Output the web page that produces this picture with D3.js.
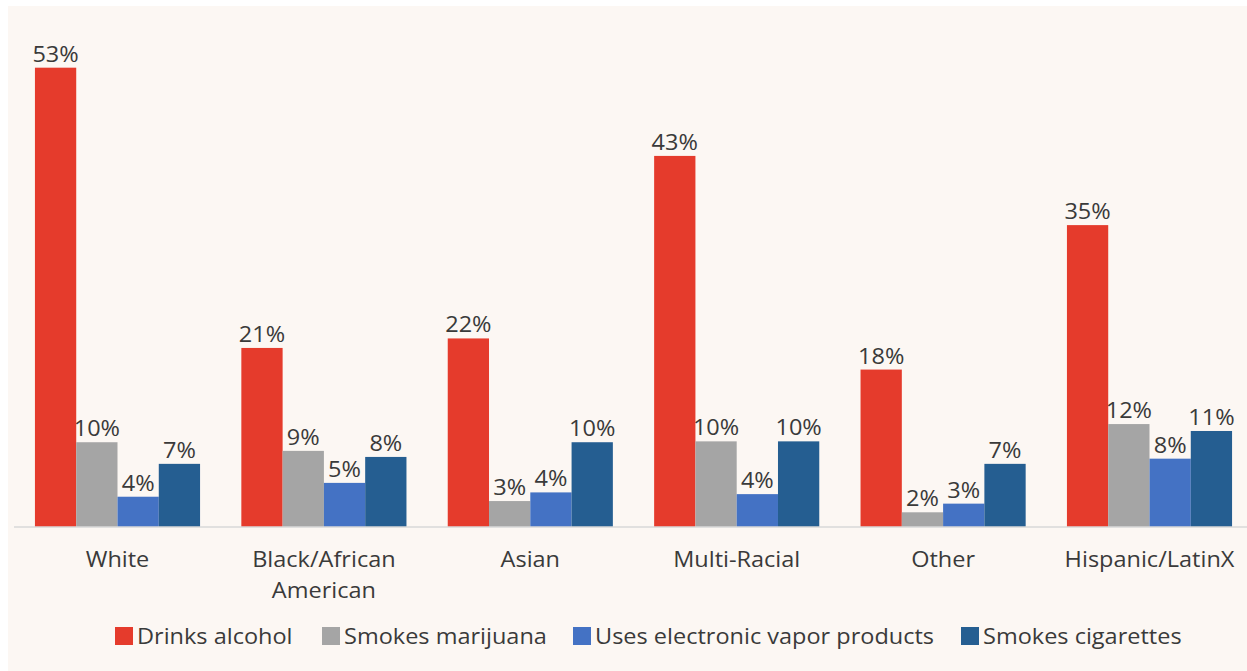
<!DOCTYPE html>
<html>
<head>
<meta charset="utf-8">
<script src="https://cdn.jsdelivr.net/npm/d3@7"></script>
<style>
  html, body { margin: 0; padding: 0; background: #ffffff; }
  svg { display: block; }
  text { font-family: "Open Sans", "Noto Sans", sans-serif; fill: #3a3a3a; }
</style>
</head>
<body>
<svg id="chart" width="1247" height="671"></svg>
<script>
const categories = ["White", "Black/African American", "Asian", "Multi-Racial", "Other", "Hispanic/LatinX"];
const seriesNames = ["Drinks alcohol", "Smokes marijuana", "Uses electronic vapor products", "Smokes cigarettes"];
const drinksAlcohol   = [53.1, 20.7, 21.8, 42.9, 18.2, 34.9];
const smokesMarijuana = [9.8, 8.8, 3.0, 9.9, 1.7, 11.9];
const usesVapor       = [3.5, 5.1, 4.0, 3.8, 2.7, 7.9];
const smokesCigs      = [7.3, 8.1, 9.8, 9.9, 7.3, 11.1];
const seriesColors = ["#e53b2c", "#a5a5a5", "#4472c4", "#255e91"];

const seriesValues = [drinksAlcohol, smokesMarijuana, usesVapor, smokesCigs];
const rows = categories.map((c, i) => ({ cat: c, vals: seriesValues.map(s => s[i]) }));

const svg = d3.select("#chart");
const W = 1247, H = 671;
const SX = 1.12, FS = 21;

svg.append("rect").attr("x", 8).attr("y", 6).attr("width", W - 8).attr("height", H - 6)
  .attr("fill", "#fcf7f3");

const baseY = 527;
const x0 = d3.scaleBand().domain(categories).range([14.3, 1252.7]).paddingInner(0.2).paddingOuter(0.1);
const x1 = d3.scaleBand().domain(seriesNames).range([0, x0.bandwidth()]).padding(0);
const y = d3.scaleLinear().domain([0, 60]).range([baseY, baseY - 60 * 8.65]);

const groups = svg.append("g").selectAll("g.grp").data(rows).join("g")
  .attr("class", "grp")
  .attr("transform", d => `translate(${x0(d.cat)},0)`);

groups.selectAll("rect").data(d => d.vals.map((v, k) => ({ v, k })))
  .join("rect")
  .attr("x", d => x1(seriesNames[d.k]))
  .attr("y", d => y(d.v))
  .attr("width", x1.bandwidth())
  .attr("height", d => baseY - y(d.v))
  .attr("fill", d => seriesColors[d.k]);

groups.selectAll("text.val").data(d => d.vals.map((v, k) => ({ v, k })))
  .join("text")
  .attr("class", "val")
  .attr("transform", d => `translate(${x1(seriesNames[d.k]) + x1.bandwidth() / 2},${y(d.v) - 6}) scale(${SX},1)`)
  .attr("text-anchor", "middle")
  .attr("font-size", FS)
  .text(d => d3.format(".0f")(d.v) + "%");

const xAxis = d3.axisBottom(x0).tickSize(0).tickPadding(0);
const axG = svg.append("g").attr("transform", `translate(0,${baseY})`).call(xAxis);
axG.select(".domain").attr("stroke", "#d9d9d9").attr("stroke-width", 1.5)
  .attr("d", `M14,0H${W}`);
axG.selectAll(".tick text")
  .attr("font-size", FS)
  .attr("font-family", '"Open Sans", sans-serif')
  .attr("fill", "#3a3a3a")
  .attr("y", 40).attr("dy", null)
  .attr("transform", `scale(${SX},1)`)
  .call(wrap, 170);

function wrap(sel, width) {
  sel.each(function () {
    const t = d3.select(this);
    const words = t.text().split(/\s+/);
    const yAttr = +t.attr("y");
    t.text(null);
    let line = [], lineNo = 0;
    let tspan = t.append("tspan").attr("x", 0).attr("y", yAttr);
    for (const w of words) {
      line.push(w);
      tspan.text(line.join(" "));
      if (tspan.node().getComputedTextLength() > width && line.length > 1) {
        line.pop();
        tspan.text(line.join(" "));
        line = [w];
        lineNo++;
        tspan = t.append("tspan").attr("x", 0).attr("y", yAttr + lineNo * 31).text(w);
      }
    }
  });
}

const legendX = [115, 322, 573, 961];
const lg = svg.append("g").attr("transform", "translate(0,636)");
const items = lg.selectAll("g").data(seriesNames).join("g")
  .attr("transform", (d, i) => `translate(${legendX[i]},0)`);
items.append("rect").attr("x", 0).attr("y", -9).attr("width", 18).attr("height", 18)
  .attr("fill", (d, i) => seriesColors[i]);
items.append("text")
  .attr("transform", `translate(22,7.5) scale(${SX},1)`)
  .attr("font-size", FS).text(d => d);
</script>
</body>
</html>
